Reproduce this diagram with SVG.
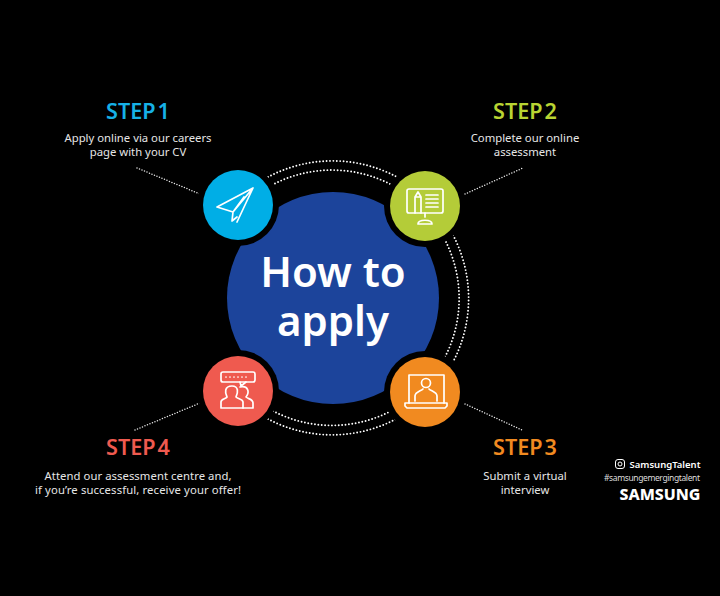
<svg xmlns="http://www.w3.org/2000/svg" width="720" height="596" viewBox="0 0 720 596">
<style>
text{font-family:"Noto Sans","Open Sans","Liberation Sans",sans-serif;text-anchor:middle}
.st{font-size:21.6px;font-weight:600;word-spacing:-3.5px}
.d{font-size:11.3px;fill:#e6e6e6}
.dot{fill:none;stroke:#fff;stroke-width:1.9;stroke-linecap:round;stroke-dasharray:0 3.4}
.dl{fill:none;stroke:#e8e8e8;stroke-width:1.5;stroke-linecap:round;stroke-dasharray:0 2.7}
.ic{fill:none;stroke:#fff;stroke-width:1.7;stroke-linejoin:round;stroke-linecap:round}
</style>
<rect width="720" height="596" fill="#000"/>
<g id="connectors">
<path class="dot" d="M268 177A137 137 0 0 1 397 177"/>
<path class="dot" d="M272 185A128 128 0 0 1 392 185"/>
<path class="dot" d="M453 235A137 137 0 0 1 453 362"/>
<path class="dot" d="M446 242A128 128 0 0 1 445 357"/>
<path class="dot" d="M273 411A128 128 0 0 0 391 411"/>
<path class="dot" d="M268 419A137 137 0 0 0 396 419"/>
<path class="dl" d="M137 168L200 194"/>
<path class="dl" d="M465 194L523 168"/>
<path class="dl" d="M465 404L522 430"/>
<path class="dl" d="M135 430L200 403"/>
</g>
<g id="center">
<circle cx="333" cy="298" r="106" fill="#1c449b"/>
<text x="333" y="287" font-size="42" font-weight="600" fill="#fff">How to</text>
<text x="333" y="336" font-size="42" font-weight="600" fill="#fff">apply</text>
</g>
<g id="step1">
<circle cx="238" cy="205" r="41" fill="#000"/>
<circle cx="238" cy="205" r="35" fill="#00aee6"/>
<path class="ic" d="M253 188L217 207L233 212L253 188L237 222ZM233 212L232 221L237 217M233 212L244 197"/>
<text class="st" x="138" y="119" fill="#16b1e6">STEP 1</text>
<text class="d" x="138" y="142">Apply online via our careers</text>
<text class="d" x="138" y="156">page with your CV</text>
</g>
<g id="step2">
<circle cx="425" cy="206" r="41" fill="#000"/>
<circle cx="425" cy="206" r="35" fill="#b4cc38"/>
<g class="ic">
<rect x="407" y="189" width="36" height="24" rx="2"/>
<path d="M415 213V197L418 192L421 197V213M415 197H421M426 195H438M426 199H438M426 203H438M426 207H438"/>
<path d="M425 213V217M418 224C418 219 432 219 432 224Z"/>
</g>
<text class="st" x="525" y="119" fill="#b9d432">STEP 2</text>
<text class="d" x="525" y="142">Complete our online</text>
<text class="d" x="525" y="156">assessment</text>
</g>
<g id="step3">
<circle cx="425" cy="392" r="41" fill="#000"/>
<circle cx="425" cy="392" r="35" fill="#f18a20"/>
<g class="ic">
<path d="M409 403V375H444V403"/>
<path d="M405 403H447V406L445 408H407L405 406Z"/>
<circle cx="426" cy="383" r="4.5"/>
<path d="M415 401V396C415 392 421 391 423 389M437 401V396C437 392 431 391 429 389"/>
</g>
<text class="st" x="525" y="455" fill="#f18a20">STEP 3</text>
<text class="d" x="525" y="480">Submit a virtual</text>
<text class="d" x="525" y="494">interview</text>
</g>
<g id="step4">
<circle cx="238" cy="391" r="41" fill="#000"/>
<circle cx="238" cy="391" r="35" fill="#ef5a4f"/>
<g class="ic">
<rect x="221" y="372" width="34" height="10" rx="2"/>
<path d="M226 377H250" stroke-dasharray="0 4"/>
<path d="M240 382L241 386L246 382"/>
<path d="M221 408V402C221 399 226 399 227 397C225 393 224 386 232 386C239 386 238 393 236 397C238 399 243 399 243 402V408Z"/>
<path d="M240 387C248 385 250 392 246 397C248 399 253 399 253 403V408H243"/>
</g>
<text class="st" x="138" y="455" fill="#ef5a4f">STEP 4</text>
<text class="d" x="138" y="480" textLength="187">Attend our assessment centre and,</text>
<text class="d" x="138" y="494" textLength="206">if you’re successful, receive your offer!</text>
</g>
<g id="brand">
<rect x="615.500" y="459.500" width="9" height="9" rx="2.500" fill="none" stroke="#fff" stroke-width="1"/>
<circle cx="620" cy="464" r="2" fill="none" stroke="#fff" stroke-width="1"/>
<text x="665" y="468" font-size="9.500" font-weight="600" fill="#fff" textLength="71">SamsungTalent</text>
<text x="652" y="481" font-size="8.500" fill="#ddd" textLength="96">#samsungemergingtalent</text>
<text x="660" y="500" font-size="15" font-weight="800" fill="#fff" textLength="81" lengthAdjust="spacingAndGlyphs">SAMSUNG</text>
</g>
</svg>
